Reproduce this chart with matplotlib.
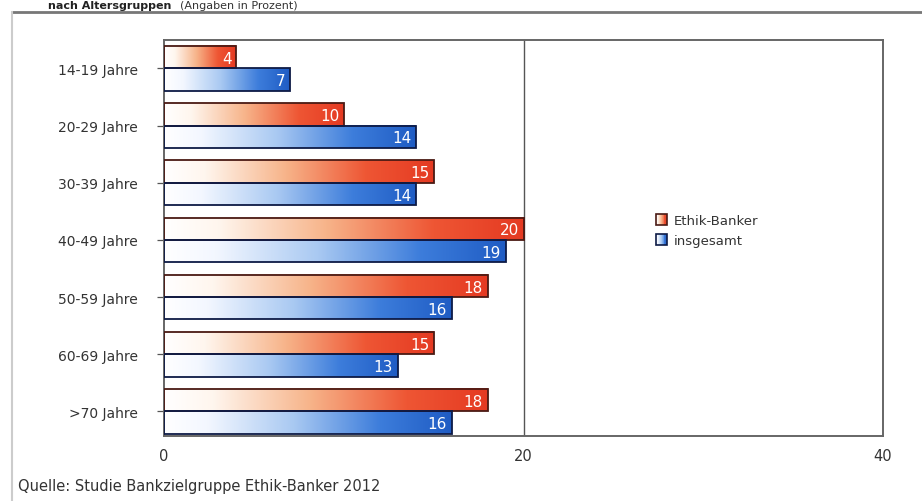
import matplotlib
matplotlib.use("Agg")
import matplotlib.pyplot as plt
import numpy as np
from matplotlib.colors import LinearSegmentedColormap
from matplotlib.patches import Rectangle
from matplotlib.legend_handler import HandlerBase

categories = ["14-19 Jahre", "20-29 Jahre", "30-39 Jahre", "40-49 Jahre",
              "50-59 Jahre", "60-69 Jahre", ">70 Jahre"]
ethik = [4, 10, 15, 20, 18, 15, 18]
gesamt = [7, 14, 14, 19, 16, 13, 16]
series_names = ["Ethik-Banker", "insgesamt"]
xticks = [0, 20, 40]

red_cmap = LinearSegmentedColormap.from_list(
    "r", [(0, "#ffffff"), (0.15, "#fff6ee"), (0.45, "#f7b48a"), (0.75, "#ee5634"), (1, "#e53a22")])
blue_cmap = LinearSegmentedColormap.from_list(
    "b", [(0, "#ffffff"), (0.15, "#f3f7ff"), (0.45, "#a9c9f2"), (0.75, "#3d7ddb"), (1, "#1f5cc4")])
edge_red = "#4a1a14"
edge_blue = "#0d1a45"

fig = plt.figure(figsize=(9.22, 5.02), dpi=100)
W, H = 922, 502
ax = fig.add_axes([164 / W, 1 - 437 / H, (883 - 164) / W, (437 - 41) / H])

grad = np.linspace(0, 1, 256).reshape(1, -1)
bh = 0.39
for i in range(len(categories)):
    for vals, cmap, ec, off in ((ethik, red_cmap, edge_red, -bh), (gesamt, blue_cmap, edge_blue, 0)):
        v = vals[i]
        y0 = i + off
        ax.imshow(grad, cmap=cmap, extent=[0, v, y0 + bh, y0], aspect="auto",
                  interpolation="bicubic", zorder=2)
        ax.add_patch(Rectangle((0, y0), v, bh, fill=False, edgecolor=ec, lw=1.3, zorder=3))
        ax.text(v - 0.25, y0 + bh / 2 + 0.02, str(v), color="white", ha="right", va="center",
                fontsize=11, zorder=4)

ax.set_xlim(0, 40)
ax.set_ylim(6.43, -0.496)
ax.set_xticks(xticks)
ax.set_xticklabels([str(t) for t in xticks], fontsize=10.5, color="#333333")
ax.tick_params(axis="x", length=0, pad=9)
ax.set_yticks(range(len(categories)))
ax.set_yticklabels(categories, fontsize=10, color="#333333")
ax.tick_params(axis="y", length=5, width=0.9, color="#555555", pad=14)
for s in ax.spines.values():
    s.set_color("#666666")
    s.set_linewidth(1.4)
ax.axvline(20, color="#555555", lw=1.0, zorder=1)


class GradHandler(HandlerBase):
    def __init__(self, cmap, ec):
        super().__init__()
        self.cmap = cmap
        self.ec = ec

    def create_artists(self, legend, orig_handle, xdescent, ydescent, width, height, fontsize, trans):
        arts = []
        s = height * 1.0
        x0 = width - s - xdescent
        y0 = -ydescent
        n = 12
        for k in range(n):
            r = Rectangle((x0 + k * s / n, y0), s / n, s, facecolor=self.cmap((k + 0.5) / n),
                          edgecolor="none", transform=trans)
            arts.append(r)
        arts.append(Rectangle((x0, y0), s, s, fill=False, edgecolor=self.ec, lw=1.2, transform=trans))
        return arts


h1 = Rectangle((0, 0), 1, 1)
h2 = Rectangle((0, 0), 1, 1)
leg = ax.legend([h1, h2], series_names, handler_map={h1: GradHandler(red_cmap, edge_red),
                                                      h2: GradHandler(blue_cmap, edge_blue)},
                loc="upper left", bbox_to_anchor=(0.665, 0.59), frameon=False,
                fontsize=9.5, handlelength=1.0, handleheight=0.9, handletextpad=0.5,
                labelspacing=0.5, labelcolor="#333333")

# outer frame lines
fig.add_artist(plt.Line2D([12 / W, 1], [1 - 13 / H, 1 - 13 / H], color="#777777", lw=2))
fig.add_artist(plt.Line2D([12 / W, 12 / W], [1 - 13 / H, 0], color="#cccccc", lw=1.5))

# title at the top (cut off in the original scan)
fig.text(48 / W, 1 - 1 / H, "nach Altersgruppen", fontsize=8, fontweight="bold",
         color="#222222", va="top", ha="left")
fig.text(180 / W, 1 - 1 / H, "(Angaben in Prozent)", fontsize=8, color="#333333",
         va="top", ha="left")

fig.text(18 / W, 1 - 487 / H, "Quelle: Studie Bankzielgruppe Ethik-Banker 2012",
         fontsize=10.5, color="#333333", va="center", ha="left")

fig.savefig("out.png", dpi=100)
